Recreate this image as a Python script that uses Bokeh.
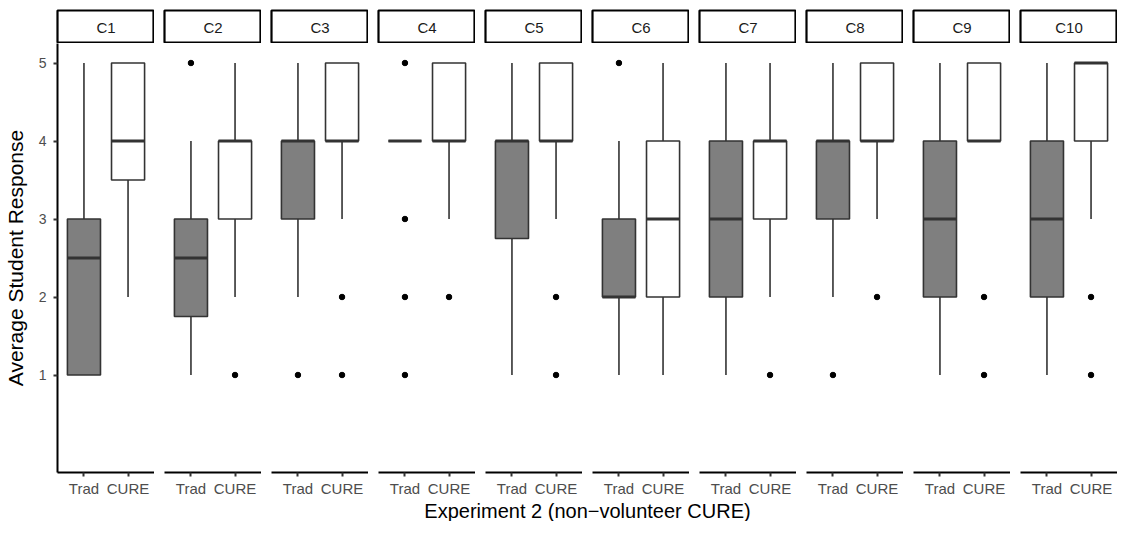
from bokeh.plotting import figure
from bokeh.layouts import row, column
from bokeh.models import FactorRange, Range1d, FixedTicker, Label
from bokeh.embed import file_html
from bokeh.resources import INLINE
from bokeh.core.properties import value

# ---------------- data ----------------
panels = ["C1", "C2", "C3", "C4", "C5", "C6", "C7", "C8", "C9", "C10"]
groups = ["Trad", "CURE"]

trad_lo = [1, 1, 2, 4, 1, 1, 1, 2, 1, 1]
trad_q1 = [1, 1.75, 3, 4, 2.75, 2, 2, 3, 2, 2]
trad_med = [2.5, 2.5, 4, 4, 4, 2, 3, 4, 3, 3]
trad_q3 = [3, 3, 4, 4, 4, 3, 4, 4, 4, 4]
trad_hi = [5, 4, 5, 4, 5, 4, 5, 5, 5, 5]
trad_out = [[], [5], [1], [5, 3, 2, 1], [], [5], [], [1], [], []]

cure_lo = [2, 2, 3, 3, 3, 1, 2, 3, 4, 3]
cure_q1 = [3.5, 3, 4, 4, 4, 2, 3, 4, 4, 4]
cure_med = [4, 4, 4, 4, 4, 3, 4, 4, 4, 5]
cure_q3 = [5, 4, 5, 5, 5, 4, 4, 5, 5, 5]
cure_hi = [5, 5, 5, 5, 5, 5, 5, 5, 5, 5]
cure_out = [[], [1], [2, 1], [2], [2, 1], [], [1], [2], [2, 1], [2, 1]]

y_ticks = [1, 2, 3, 4, 5]
fills = ["#7f7f7f", "#ffffff"]

# ---------------- layout constants ----------------
FONT = "Liberation Sans"
LEFT = 57
PW = 97
GAP = 10
TOP = 10
STRIP_H = 33
FRAME_H = 434
BOTTOM = 22
XLAB_H = 22
TOTAL_W = LEFT + PW + 9 * (PW + GAP)

y_range = Range1d(-0.25, 5.25)

strips = []
boxes = []
for i, name in enumerate(panels):
    lb = LEFT if i == 0 else GAP
    # ---- strip ----
    s = figure(width=lb + PW, height=TOP + STRIP_H, x_range=Range1d(0, 1), y_range=Range1d(0, 1),
               x_axis_location=None, y_axis_location=None, toolbar_location=None,
               output_backend="svg", min_border=0, min_border_left=lb, min_border_top=TOP,
               min_border_right=0, min_border_bottom=0)
    s.grid.visible = False
    s.outline_line_color = "black"
    s.outline_line_width = 2.2
    s.background_fill_color = "white"
    s.border_fill_color = "white"
    s.text(x=[0.5], y=[0.5], text=[name], text_align="center", text_baseline="middle",
           text_font=value(FONT), text_font_size="15px", text_color="#1a1a1a")
    strips.append(s)

    # ---- panel ----
    p = figure(width=lb + PW, height=FRAME_H + BOTTOM,
               x_range=FactorRange(*groups, range_padding=0.1), y_range=y_range,
               y_axis_location="left" if i == 0 else None,
               toolbar_location=None, output_backend="svg",
               min_border=0, min_border_left=lb, min_border_right=0,
               min_border_top=0, min_border_bottom=BOTTOM)
    p.grid.visible = False
    p.outline_line_color = None
    p.background_fill_color = "white"
    p.border_fill_color = "white"

    lo = [trad_lo[i], cure_lo[i]]
    q1 = [trad_q1[i], cure_q1[i]]
    med = [trad_med[i], cure_med[i]]
    q3 = [trad_q3[i], cure_q3[i]]
    hi = [trad_hi[i], cure_hi[i]]

    p.segment(x0=groups, y0=q3, x1=groups, y1=hi, line_color="#333333", line_width=1.6)
    p.segment(x0=groups, y0=lo, x1=groups, y1=q1, line_color="#333333", line_width=1.6)
    p.vbar(x=groups, bottom=q1, top=q3, width=0.75, fill_color=fills,
           line_color="#333333", line_width=1.6)
    p.vbar(x=groups, bottom=med, top=med, width=0.75, fill_color=None,
           line_color="#333333", line_width=3.2)

    ox = ["Trad"] * len(trad_out[i]) + ["CURE"] * len(cure_out[i])
    oy = list(trad_out[i]) + list(cure_out[i])
    if ox:
        p.scatter(x=ox, y=oy, size=5.5, fill_color="black", line_color="black")

    xa = p.xaxis[0]
    xa.axis_line_color = "black"
    xa.axis_line_width = 2
    xa.major_tick_line_color = "#333333"
    xa.major_tick_line_width = 2
    xa.major_tick_out = 4
    xa.major_tick_in = 0
    xa.minor_tick_line_color = None
    xa.major_label_standoff = 3
    xa.major_label_text_font = FONT
    xa.major_label_text_font_size = "15px"
    xa.major_label_text_color = "#4d4d4d"

    if i == 0:
        ya = p.yaxis[0]
        ya.ticker = FixedTicker(ticks=y_ticks)
        ya.axis_label = "Average Student Response"
        ya.axis_label_text_font = FONT
        ya.axis_label_text_font_size = "21px"
        ya.axis_label_text_font_style = "normal"
        ya.axis_label_text_color = "black"
        ya.axis_label_standoff = 9
        ya.axis_line_color = "black"
        ya.axis_line_width = 2
        ya.major_tick_line_color = "#333333"
        ya.major_tick_line_width = 2
        ya.major_tick_out = 4
        ya.major_tick_in = 0
        ya.minor_tick_line_color = None
        ya.major_label_standoff = 7
        ya.major_label_text_font = FONT
        ya.major_label_text_font_size = "14px"
        ya.major_label_text_color = "#4d4d4d"
    boxes.append(p)

# ---- x axis title ----
xl = figure(width=TOTAL_W, height=XLAB_H, x_range=Range1d(0, 1), y_range=Range1d(0, 1),
            x_axis_location=None, y_axis_location=None, toolbar_location=None,
            output_backend="svg", min_border=0, min_border_left=LEFT)
xl.grid.visible = False
xl.outline_line_color = None
xl.border_fill_color = "white"
xl.add_layout(Label(x=0.5, y=0.5, text="Experiment 2 (non\u2212volunteer CURE)",
                    text_align="center", text_baseline="middle", text_font=FONT,
                    text_font_size="20px", text_color="black"))

layout = column(row(*strips), row(*boxes), xl)
open("out.html", "w").write(file_html(layout, INLINE))
